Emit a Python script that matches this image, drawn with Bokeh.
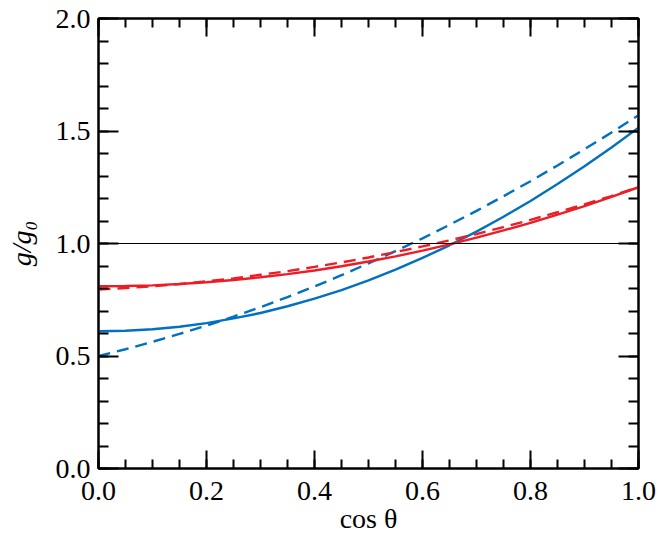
from bokeh.plotting import figure
from bokeh.models import (Range1d, LinearAxis, SingleIntervalTicker, Span,
                          PrintfTickFormatter, CustomJSTickFormatter)
from bokeh.embed import file_html
from bokeh.resources import INLINE

# ---- data ----
cos_theta = [0.00, 0.05, 0.10, 0.15, 0.20, 0.25, 0.30, 0.35, 0.40, 0.45, 0.50,
             0.55, 0.60, 0.65, 0.70, 0.75, 0.80, 0.85, 0.90, 0.95, 1.00]
blue_solid = [0.610, 0.612, 0.619, 0.630, 0.646, 0.667, 0.691, 0.721, 0.755, 0.793, 0.836,
              0.884, 0.936, 0.992, 1.053, 1.119, 1.189, 1.264, 1.343, 1.427, 1.515]
blue_dashed = [0.500, 0.530, 0.563, 0.598, 0.635, 0.675, 0.717, 0.762, 0.809, 0.859, 0.912,
               0.966, 1.023, 1.083, 1.145, 1.210, 1.277, 1.347, 1.419, 1.493, 1.570]
red_solid = [0.810, 0.811, 0.814, 0.820, 0.828, 0.838, 0.850, 0.864, 0.880, 0.899, 0.920,
             0.943, 0.968, 0.996, 1.026, 1.058, 1.092, 1.128, 1.166, 1.207, 1.250]
red_dashed = [0.795, 0.802, 0.810, 0.820, 0.832, 0.845, 0.861, 0.877, 0.896, 0.916, 0.938,
              0.962, 0.987, 1.014, 1.042, 1.073, 1.105, 1.139, 1.174, 1.211, 1.250]
reference_level = 1.0
x_tick_interval = 0.2
y_tick_interval = 0.5

FONT = "Liberation Serif"
BLUE = "#0070C0"
RED = "#EE1C25"

p = figure(frame_width=540, frame_height=450,
           min_border_left=98, min_border_right=20, min_border_top=18, min_border_bottom=67,
           x_range=Range1d(0, 1), y_range=Range1d(0, 2),
           output_backend="svg", toolbar_location=None,
           x_axis_label="cos θ", y_axis_label="g/g₀")
p.xgrid.visible = False
p.ygrid.visible = False
p.outline_line_color = "black"
p.outline_line_width = 2
p.background_fill_color = "white"
p.border_fill_color = "white"


def style_axis(ax, interval, minor_count, major, minor, show_labels):
    ax.ticker = SingleIntervalTicker(interval=interval, num_minor_ticks=minor_count)
    ax.axis_line_width = 2
    ax.axis_line_color = "black"
    ax.major_tick_in = major
    ax.major_tick_out = 0
    ax.minor_tick_in = minor
    ax.minor_tick_out = 0
    ax.major_tick_line_width = 2
    ax.minor_tick_line_width = 2
    ax.major_tick_line_color = "black"
    ax.minor_tick_line_color = "black"
    ax.major_label_text_font = FONT
    ax.major_label_text_font_size = "28px"
    ax.major_label_text_color = "black"
    ax.axis_label_text_font = FONT
    ax.axis_label_text_font_size = "28px"
    ax.axis_label_text_color = "black"
    if show_labels:
        ax.formatter = PrintfTickFormatter(format="%.1f")
    else:
        ax.formatter = CustomJSTickFormatter(code="return '';")
        ax.major_label_standoff = 0
        ax.axis_label = None


xa = p.xaxis[0]
ya = p.yaxis[0]
style_axis(xa, x_tick_interval, 4, 18, 9, True)
style_axis(ya, y_tick_interval, 5, 20, 10, True)
xa.major_label_standoff = 13
xa.axis_label_standoff = 0
xa.axis_label_text_font_style = "normal"
ya.major_label_standoff = 8
ya.axis_label_standoff = 16
ya.axis_label_text_font_style = "italic"

top = LinearAxis()
style_axis(top, x_tick_interval, 4, 18, 9, False)
p.add_layout(top, "above")
right = LinearAxis()
style_axis(right, y_tick_interval, 5, 20, 10, False)
p.add_layout(right, "right")

p.add_layout(Span(location=reference_level, dimension="width", line_color="black", line_width=1))

p.line(cos_theta, blue_dashed, line_color=BLUE, line_width=2.4, line_dash="12 7")
p.line(cos_theta, blue_solid, line_color=BLUE, line_width=2.4)
p.line(cos_theta, red_dashed, line_color=RED, line_width=2.4, line_dash="12 7")
p.line(cos_theta, red_solid, line_color=RED, line_width=2.4)

open("out.html", "w").write(file_html(p, INLINE))
